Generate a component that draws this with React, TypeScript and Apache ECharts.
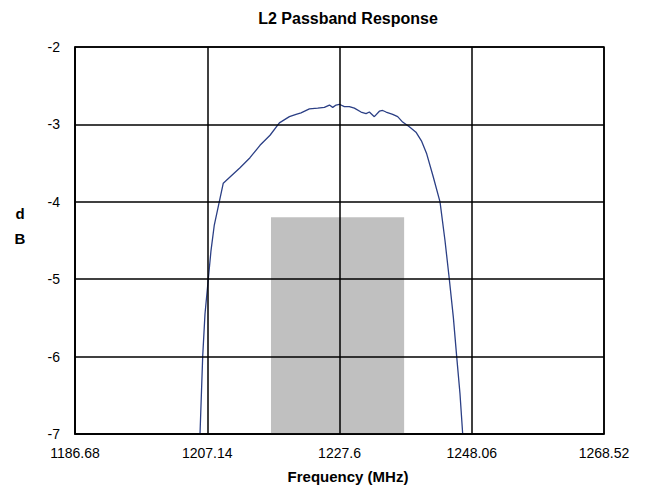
import React, { useEffect, useRef } from "react";
import * as echarts from "echarts";

const titleText = "L2 Passband Response";
const xAxisName = "Frequency (MHz)";
const yAxisNameLetters = ["d", "B"];

const xTickLabels = ["1186.68", "1207.14", "1227.6", "1248.06", "1268.52"];
const xMin = 1186.68;
const xMax = 1268.52;
const xInterval = 20.46;
const yMin = -7;
const yMax = -2;
const yInterval = 1;

// passband response curve (MHz, dB)
const freq = [
  1206.02, 1206.44, 1206.79, 1207.3, 1207.72, 1208.23, 1209.0, 1209.62, 1210.66,
  1212.21, 1213.75, 1215.3, 1216.85, 1218.3, 1219.85, 1220.88, 1221.65, 1222.94,
  1224.23, 1225.26, 1226.04, 1226.55, 1227.07, 1227.58, 1228.35, 1229.12, 1229.9,
  1230.93, 1231.71, 1232.22, 1232.99, 1233.77, 1234.28, 1234.8, 1235.83, 1236.6,
  1237.37, 1238.4, 1239.43, 1240.32, 1241.09, 1242.11, 1243.15, 1243.92, 1244.59,
  1245.21, 1245.73, 1246.24, 1246.66,
];
const dB = [
  -7.0, -5.99, -5.45, -5.0, -4.63, -4.3, -4.0, -3.76, -3.68,
  -3.56, -3.43, -3.27, -3.14, -2.98, -2.9, -2.87, -2.85, -2.8,
  -2.79, -2.78, -2.75, -2.78, -2.75, -2.74, -2.77, -2.77, -2.79,
  -2.84, -2.86, -2.84, -2.9, -2.83, -2.82, -2.84, -2.87, -2.9,
  -2.97, -3.03, -3.1, -3.22, -3.38, -3.68, -4.0, -4.5, -5.0,
  -5.49, -6.0, -6.48, -7.0,
];

// shaded band
const bandStart = 1217.0;
const bandEnd = 1237.6;
const bandTop = -4.2;
const bandBottom = -7;

const FONT = "'Liberation Sans', Arial, sans-serif";

export default function App() {
  const ref = useRef<HTMLDivElement>(null);
  useEffect(() => {
    if (!ref.current) return;
    const chart = echarts.init(ref.current, undefined, { renderer: "svg" });
    const lineData = freq.map((f, i) => [f, dB[i]]);
    chart.setOption({
      animation: false,
      backgroundColor: "#ffffff",
      textStyle: { fontFamily: FONT },
      grid: {
        left: 75,
        right: 43,
        top: 47,
        bottom: 57,
        show: true,
        borderColor: "#000",
        borderWidth: 1.5,
        backgroundColor: "#fff",
      },
      graphic: [
        {
          type: "text",
          x: 348,
          y: 18,
          style: {
            text: titleText,
            fill: "#000",
            font: `bold 16px ${FONT}`,
            textAlign: "center",
            textVerticalAlign: "middle",
          },
        },
        {
          type: "text",
          x: 348,
          y: 476,
          style: {
            text: xAxisName,
            fill: "#000",
            font: `bold 15px ${FONT}`,
            textAlign: "center",
            textVerticalAlign: "middle",
          },
        },
        ...yAxisNameLetters.map((ch, i) => ({
          type: "text",
          x: 20,
          y: 213 + i * 25,
          style: {
            text: ch,
            fill: "#000",
            font: `bold 15px ${FONT}`,
            textAlign: "center",
            textVerticalAlign: "middle",
          },
        })),
      ],
      xAxis: {
        type: "value",
        min: xMin,
        max: xMax,
        interval: xInterval,
        z: 3,
        axisLine: { show: true, lineStyle: { color: "#000", width: 1.5 } },
        axisTick: { show: false },
        splitLine: { show: true, lineStyle: { color: "#000", width: 1.5 } },
        axisLabel: {
          color: "#000",
          fontSize: 14,
          fontFamily: FONT,
          margin: 12,
          showMinLabel: true,
          showMaxLabel: true,
          formatter: (v: number) => {
            let best = xTickLabels[0];
            let bd = Infinity;
            for (const t of xTickLabels) {
              const d = Math.abs(parseFloat(t) - v);
              if (d < bd) {
                bd = d;
                best = t;
              }
            }
            return best;
          },
        },
      },
      yAxis: {
        type: "value",
        min: yMin,
        max: yMax,
        interval: yInterval,
        z: 3,
        axisLine: { show: true, lineStyle: { color: "#000", width: 1.5 } },
        axisTick: { show: false },
        splitLine: { show: true, lineStyle: { color: "#000", width: 1.5 } },
        axisLabel: {
          color: "#000",
          fontSize: 14,
          fontFamily: FONT,
          margin: 15,
        },
      },
      series: [
        {
          type: "line",
          data: lineData,
          showSymbol: false,
          symbol: "none",
          lineStyle: { color: "#2b3f85", width: 1.3 },
          z: 2,
          markArea: {
            silent: true,
            itemStyle: { color: "#c0c0c0", opacity: 1 },
            data: [[{ coord: [bandStart, bandBottom] }, { coord: [bandEnd, bandTop] }]],
          },
        },
      ],
    });
    return () => chart.dispose();
  }, []);
  return (
    <div
      ref={ref}
      style={{ position: "fixed", left: 0, top: 0, width: 647, height: 491 }}
    />
  );
}
